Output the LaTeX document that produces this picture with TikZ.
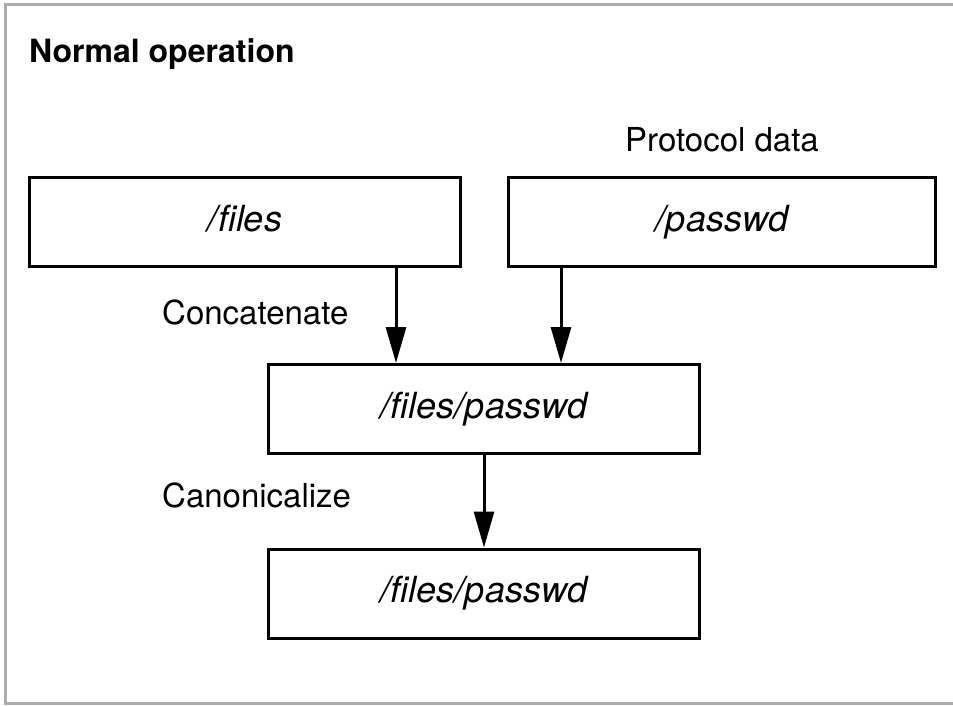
\documentclass[tikz,border=0pt]{standalone}
\usepackage{fontspec}
\setmainfont{TeX Gyre Heros}
\usetikzlibrary{arrows.meta}
\tikzset{
  pathbox/.style = {draw, line width = 3pt, minimum width = 431pt, minimum height = 89pt,
    inner sep = 0pt, text height = 26pt, text depth = 8pt,
    font = \fontsize{36}{40}\selectfont\itshape},
  steplabel/.style = {anchor = base west, inner sep = 0pt, font = \fontsize{33}{38}\selectfont},
  arr/.style = {line width = 3pt, -{Triangle[length = 36pt, width = 20pt]}}
}
\begin{document}
\begin{tikzpicture}[x = 1pt, y = -1pt]
      \useasboundingbox (0,0) rectangle (953,706);
      \draw [line width = 3pt, black!33] (956,5) -- (5.5,5) -- (5.5,703) -- (956,703);
      \node [anchor = base west, inner sep = 0pt, font = \fontsize{32}{36}\selectfont\bfseries]
        (title) at (29,63) {Normal operation};
      \node [pathbox] (files) at (245,222) {/files};
      \node [pathbox, minimum width = 427pt] (passwd) at (722,222) {/passwd};
      \node [steplabel] (proto) at (625,152) {Protocol data};
      \node [pathbox] (joined) at (484,409) {/files/passwd};
      \node [pathbox] (canon) at (484,593.5) {/files/passwd};
      \node [steplabel] (concat) at (162,324) {Concatenate};
      \node [steplabel] (canlbl) at (162,507) {Canonicalize};
      \coordinate (left) at (396,0);
      \coordinate (right) at (561,0);
      \draw [arr] (left |- files.south) -- (left |- joined.north);
      \draw [arr] (right |- passwd.south) -- (right |- joined.north);
      \draw [arr] (joined.south) -- (canon.north);
    \end{tikzpicture}
\end{document}
